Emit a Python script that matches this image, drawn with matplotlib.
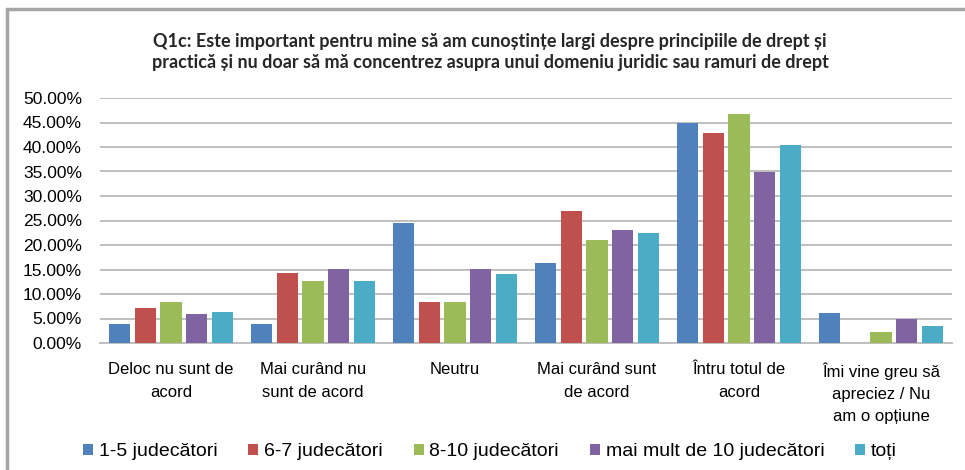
import numpy as np
import matplotlib
matplotlib.use("Agg")
import matplotlib.pyplot as plt
from matplotlib.patches import Rectangle
from matplotlib.ticker import FuncFormatter

categories = [
    "Deloc nu sunt de\nacord",
    "Mai curând nu\nsunt de acord",
    "Neutru",
    "Mai curând sunt\nde acord",
    "Întru totul de\nacord",
    "Îmi vine greu să\napreciez / Nu\nam o opțiune",
]
series_names = ["1-5 judecători", "6-7 judecători", "8-10 judecători",
                "mai mult de 10 judecători", "toți"]
v_1_5 = [3.9, 3.9, 24.4, 16.3, 44.8, 6.1]
v_6_7 = [7.1, 14.3, 8.4, 27.0, 42.9, 0.0]
v_8_10 = [8.4, 12.7, 8.4, 21.1, 46.7, 2.2]
v_10plus = [5.9, 15.2, 15.2, 23.1, 35.0, 5.0]
v_toti = [6.3, 12.7, 14.1, 22.5, 40.4, 3.5]
colors = ["#4F81BD", "#C0504D", "#9BBB59", "#8064A2", "#4BACC6"]

title = ("Q1c: Este important pentru mine să am cunoștințe largi despre principiile de drept și\n"
         "practică și nu doar să mă concentrez asupra unui domeniu juridic sau ramuri de drept")

plt.rcParams["font.family"] = ["Liberation Sans", "DejaVu Sans"]

W, H = 965, 470
fig = plt.figure(figsize=(W / 100, H / 100), dpi=100)

# chart frame
fig.add_artist(Rectangle((7 / W, -0.1), 1.2, 1 - 9 / H + 0.1,
                         transform=fig.transFigure, fill=False,
                         edgecolor="#A6A6A6", linewidth=2.5))

ax = fig.add_axes([100 / W, (H - 343) / H, (952 - 100) / W, (343 - 98) / H])

series = [v_1_5, v_6_7, v_8_10, v_10plus, v_toti]
x = np.arange(len(categories))
step = 0.183
width = 0.148
for i, (vals, name, c) in enumerate(zip(series, series_names, colors)):
    ax.bar(x + (i - 2) * step, np.array(vals) / 100, width=width,
           color=c, label=name, zorder=3)

ax.set_xlim(-0.5, len(categories) - 0.5)
ax.set_ylim(0, 0.5)
ax.set_yticks(np.arange(0, 0.501, 0.05))
ax.yaxis.set_major_formatter(FuncFormatter(lambda v, p: f"{v * 100:.2f}%"))
ax.set_xticks(x)
ax.set_xticklabels(categories, fontsize=12, linespacing=1.6)
ax.tick_params(axis="y", labelsize=12.5, length=0, pad=13)
ax.tick_params(axis="x", length=0, pad=14)
ax.grid(axis="y", color="#BFBFBF", linewidth=1.4, zorder=0)
for s in ["top", "right", "left"]:
    ax.spines[s].set_visible(False)
ax.spines["bottom"].set_color("#BFBFBF")
ax.spines["bottom"].set_linewidth(1.4)

fig.text(490 / W, 1 - 52 / H, title, ha="center", va="center",
         fontsize=13, fontweight="bold", family=["Lato", "DejaVu Sans"],
         linespacing=1.35, color="#262626")

fig.legend(loc="center", bbox_to_anchor=(490 / W, 1 - 452 / H), ncol=5,
           frameon=False, fontsize=14, handlelength=0.5, handleheight=0.5,
           handletextpad=0.3, columnspacing=1.6)

fig.savefig("out.png", dpi=100)
